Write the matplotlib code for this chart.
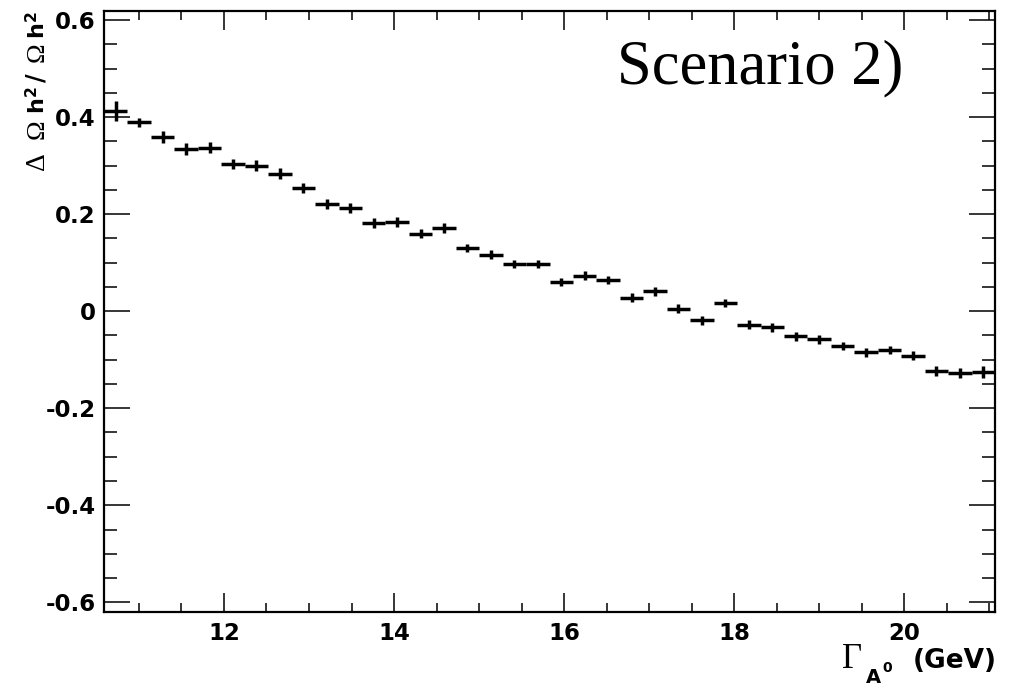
import numpy as np
import matplotlib
matplotlib.use("Agg")
import matplotlib.pyplot as plt
from matplotlib.ticker import MultipleLocator

plt.rcParams['mathtext.fontset'] = 'custom'
plt.rcParams['mathtext.rm'] = 'Liberation Serif'
plt.rcParams['mathtext.it'] = 'Liberation Serif:italic'
plt.rcParams['mathtext.bf'] = 'DejaVu Sans:bold'

W, H = 1011, 685

# histogram: 38 bins of Gamma_A0 (GeV)
x_lo, x_hi = 10.59, 21.065
n_bins = 38
rel_diff = [0.412, 0.389, 0.359, 0.334, 0.337, 0.303, 0.300, 0.283, 0.254, 0.221,
            0.212, 0.182, 0.184, 0.160, 0.172, 0.130, 0.116, 0.097, 0.097, 0.060,
            0.073, 0.064, 0.028, 0.041, 0.005, -0.019, 0.017, -0.028, -0.033, -0.052,
            -0.058, -0.072, -0.085, -0.080, -0.092, -0.124, -0.128, -0.125]
rel_err = [0.021, 0.010, 0.013, 0.013, 0.012, 0.011, 0.011, 0.011, 0.011, 0.010,
           0.010, 0.010, 0.010, 0.010, 0.010, 0.009, 0.009, 0.009, 0.009, 0.009,
           0.009, 0.009, 0.009, 0.009, 0.009, 0.009, 0.009, 0.009, 0.009, 0.009,
           0.009, 0.009, 0.009, 0.009, 0.009, 0.010, 0.010, 0.013]

edges = np.linspace(x_lo, x_hi, n_bins + 1)
centers = 0.5 * (edges[1:] + edges[:-1])
half_w = 0.5 * (edges[1:] - edges[:-1])


def px(x, y):
    # pixel position (from top-left) -> figure fraction
    return x / W, 1 - y / H


fig = plt.figure(figsize=(W / 100, H / 100), dpi=100)
ax = fig.add_axes([0.1029, 0.1061, 0.8813, 0.8779])

ax.errorbar(centers, rel_diff, xerr=half_w, yerr=rel_err, fmt='none',
            ecolor='black', elinewidth=2.5, capsize=0)

ax.set_xlim(x_lo, x_hi)
ax.set_ylim(-0.6206, 0.6186)
ax.xaxis.set_major_locator(MultipleLocator(2))
ax.xaxis.set_minor_locator(MultipleLocator(0.5))
ax.yaxis.set_major_locator(MultipleLocator(0.2))
ax.yaxis.set_minor_locator(MultipleLocator(0.05))
ax.yaxis.set_major_formatter(plt.FuncFormatter(lambda v, p: '0' if abs(v) < 1e-9 else '%g' % v))

for s in ax.spines.values():
    s.set_linewidth(1.6)

ax.tick_params(axis='both', which='both', direction='in', top=True, right=True, width=1.1)
ax.tick_params(axis='x', which='major', length=13.5, pad=7)
ax.tick_params(axis='x', which='minor', length=6.5)
ax.tick_params(axis='y', which='major', length=19, pad=6)
ax.tick_params(axis='y', which='minor', length=9.5)
for lab in ax.get_xticklabels() + ax.get_yticklabels():
    lab.set_fontfamily('DejaVu Sans')
    lab.set_fontweight('bold')
    lab.set_fontsize(16.5)

# y axis title, written bottom to top in pieces
ylab_parts = [
    ('\u0394', 170, 20, 'Liberation Serif', 'normal'),
    ('\u03a9', 139, 19, 'Liberation Serif', 'normal'),
    (r'$\mathbf{h}^{\mathbf{2}}$', 114, 16, None, None),
    ('/', 82, 17, 'DejaVu Sans', 'bold'),
    ('\u03a9', 62, 19, 'Liberation Serif', 'normal'),
    (r'$\mathbf{h}^{\mathbf{2}}$', 39, 16, None, None),
]
for txt, y0, size, fam, wt in ylab_parts:
    kw = dict(rotation=90, rotation_mode='anchor', ha='left', va='baseline', fontsize=size)
    if fam:
        kw.update(family=fam, fontweight=wt)
    fig.text(*px(44, y0), txt, **kw)

# x axis title, right aligned
fig.text(*px(997, 668), '(GeV)', ha='right', va='baseline',
         fontsize=19, fontweight='bold', family='DejaVu Sans')
fig.text(*px(842, 668), '\u0393', ha='left', va='baseline', fontsize=25,
         family='Liberation Serif')
fig.text(*px(866, 683), 'A', ha='left', va='baseline', fontsize=14,
         fontweight='bold', family='DejaVu Sans')
fig.text(*px(882, 672), '0', ha='left', va='baseline', fontsize=10,
         fontweight='bold', family='DejaVu Sans')

fig.text(*px(617, 83), 'Scenario 2)', ha='left', va='baseline',
         fontsize=45, family='Liberation Serif')

fig.savefig('out.png', dpi=100)
